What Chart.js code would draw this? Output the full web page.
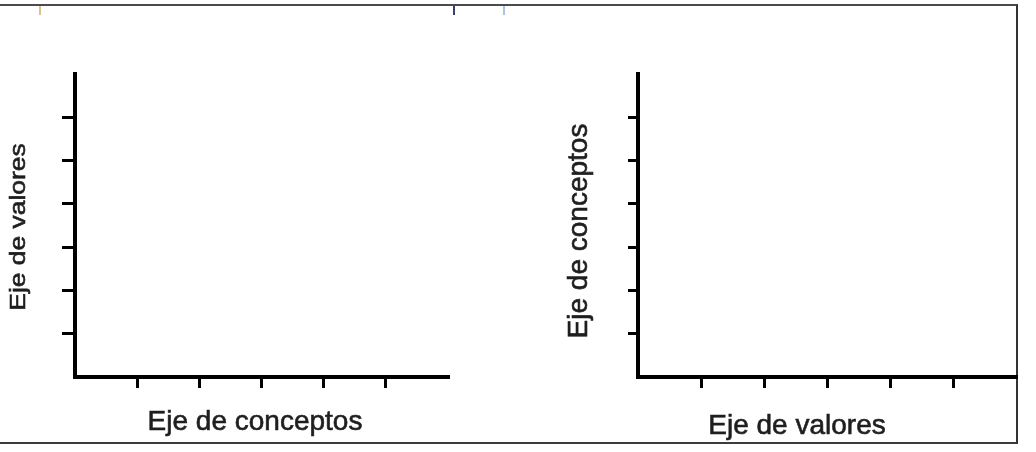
<!DOCTYPE html>
<html>
<head>
<meta charset="utf-8">
<script src="https://cdn.jsdelivr.net/npm/chart.js@4/dist/chart.umd.min.js"></script>
<style>
  html, body { margin: 0; padding: 0; background: #fff; width: 1036px; height: 452px; overflow: hidden; }
  #wrap { position: relative; width: 1036px; height: 452px; }
  #frame { position: absolute; left: -10px; top: 4px; width: 1028px; height: 440px; box-sizing: border-box;
           border-top: 2px solid #4a4a4a; border-right: 2px solid #333; border-bottom: 2px solid #3c3c3c; }
  .mark { position: absolute; top: 6px; width: 2px; height: 9px; }
  canvas { position: absolute; left: 0; top: 0; }
</style>
</head>
<body>
<div id="wrap">
  <div id="frame"></div>
  <div class="mark" style="left:39px;background:#d9c48a;"></div>
  <div class="mark" style="left:453px;background:#3a3f6a;"></div>
  <div class="mark" style="left:503px;background:#a9c3e0;"></div>
  <canvas id="left" width="1036" height="452"></canvas>
  <canvas id="right" width="1036" height="452"></canvas>
</div>
<script>
// ---- data (the reference charts are empty templates: axes only, no series) ----
const leftValueTicks   = [0, 1, 2, 3, 4, 5, 6, 7];   // vertical value axis, left chart
const leftConceptTicks = [0, 1, 2, 3, 4, 5, 6];      // horizontal concept axis, left chart
const rightConceptTicks = [0, 1, 2, 3, 4, 5, 6, 7];  // vertical concept axis, right chart
const rightValueTicks  = [0, 1, 2, 3, 4, 5, 6];      // horizontal value axis, right chart
const leftSeries  = [];
const rightSeries = [];
const leftTitles  = { x: 'Eje de conceptos', y: 'Eje de valores' };
const rightTitles = { x: 'Eje de valores',   y: 'Eje de conceptos' };

const INK = '#1e1e1e';

function axisScale(ticksArr, tickLen) {
  return {
    type: 'linear',
    min: ticksArr[0],
    max: ticksArr[ticksArr.length - 1],
    afterBuildTicks: s => { s.ticks = ticksArr.map(v => ({ value: v })); },
    ticks: { display: false },
    grid: {
      drawOnChartArea: false,
      drawTicks: true,
      tickLength: tickLen,
      lineWidth: 3,
      color: c => (c.tick && (c.tick.value === ticksArr[0] || c.tick.value === ticksArr[ticksArr.length - 1])) ? 'rgba(0,0,0,0)' : '#000'
    },
    border: { display: true, color: '#000', width: 4 }
  };
}

// draws axis titles as canvas text
function drawText(ctx, text, size) {
  ctx.font = size + 'px "Liberation Sans", Arial, sans-serif';
  ctx.lineWidth = 0.6;
  ctx.strokeStyle = INK;
  ctx.strokeText(text, 0, 0);
  ctx.fillText(text, 0, 0);
}
function titlePlugin(spec) {
  return {
    id: 'axisTitles',
    afterDraw(chart) {
      const ctx = chart.ctx;
      ctx.save();
      ctx.fillStyle = INK;
      ctx.textAlign = 'center';
      ctx.textBaseline = 'alphabetic';
      ctx.save();
      ctx.translate(spec.x.cx, spec.x.base);
      drawText(ctx, spec.x.text, spec.x.size);
      ctx.restore();
      ctx.translate(spec.y.base, spec.y.cy);
      ctx.rotate(-Math.PI / 2);
      ctx.scale(spec.y.stretch, 1);
      drawText(ctx, spec.y.text, spec.y.size);
      ctx.restore();
    }
  };
}

function makeChart(id, series, xTicks, yTicks, xTickLen, yTickLen, padding, titles) {
  return new Chart(document.getElementById(id), {
    type: 'scatter',
    data: { datasets: [{ data: series }] },
    options: {
      responsive: false,
      devicePixelRatio: 1,
      animation: false,
      layout: { padding },
      plugins: { legend: { display: false }, tooltip: { enabled: false } },
      scales: {
        x: Object.assign(axisScale(xTicks, xTickLen), { position: 'bottom' }),
        y: Object.assign(axisScale(yTicks, yTickLen), { position: 'left' })
      }
    },
    plugins: [titlePlugin(titles)]
  });
}

makeChart('left', leftSeries, leftConceptTicks, leftValueTicks, 11, 13,
  { left: 62, right: 588, top: 74, bottom: 64 },
  { x: { text: leftTitles.x, size: 28, cx: 255, base: 430 },
    y: { text: leftTitles.y, size: 22, stretch: 1.2, base: 25, cy: 227 } });

makeChart('right', rightSeries, rightValueTicks, rightConceptTicks, 11, 10,
  { left: 628, right: 20, top: 74, bottom: 64 },
  { x: { text: rightTitles.x, size: 28, cx: 797, base: 434 },
    y: { text: rightTitles.y, size: 28, stretch: 1, base: 587, cy: 231 } });
</script>
</body>
</html>
